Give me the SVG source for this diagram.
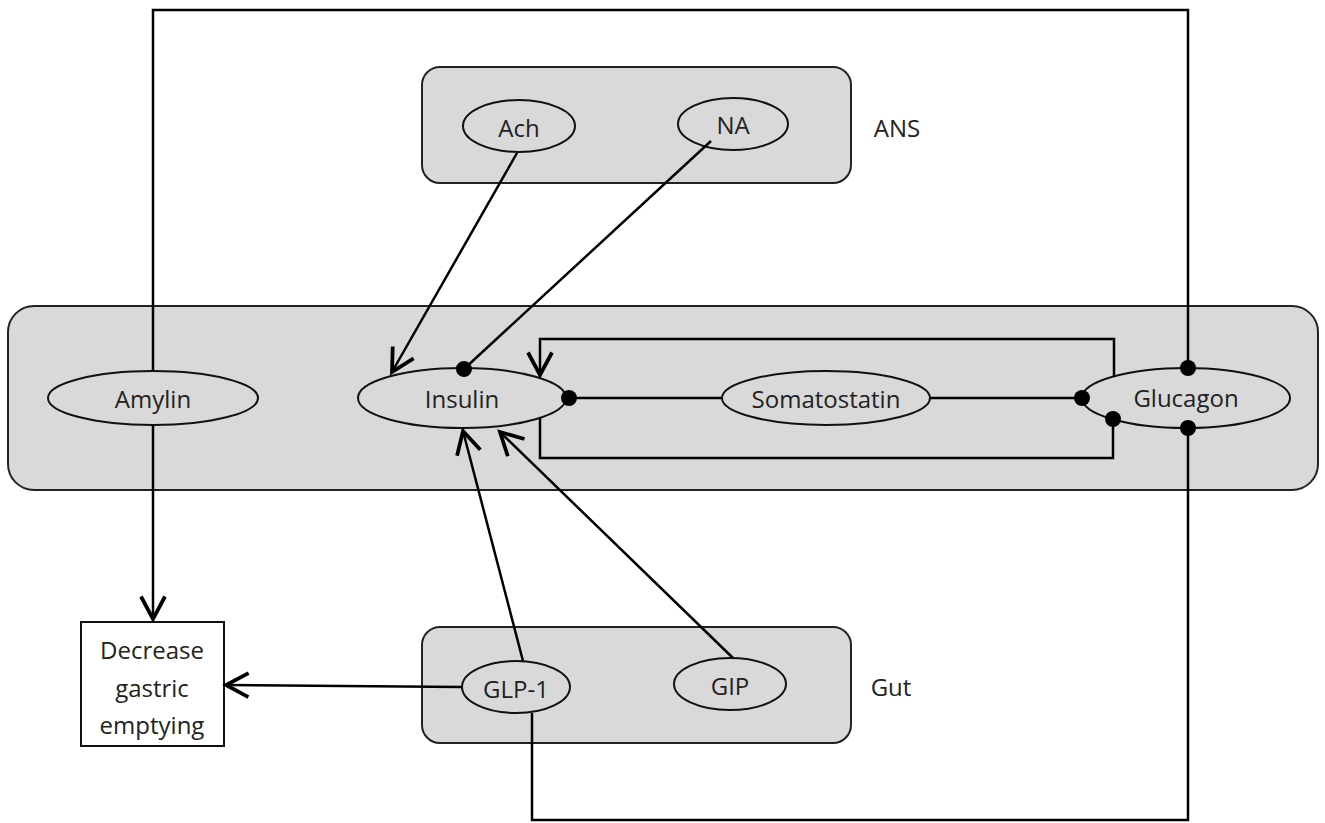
<svg xmlns="http://www.w3.org/2000/svg" width="1325" height="823" viewBox="0 0 1325 823">
<defs>
<marker id="arr" markerUnits="userSpaceOnUse" markerWidth="30" markerHeight="30" viewBox="-16 -10 20 20" refX="0" refY="0" orient="auto">
<path d="M-15,-8 L0,0 L-15,8" fill="none" stroke="#000" stroke-width="2.5"/>
</marker>
<marker id="dot" markerUnits="userSpaceOnUse" markerWidth="20" markerHeight="20" viewBox="-10 -10 20 20" refX="0" refY="0" orient="auto">
<circle cx="0" cy="0" r="8" fill="#000"/>
</marker>
<style>
.grp{fill:#d9d9d9;stroke:#222;stroke-width:2}
.el{fill:#d9d9d9;stroke:#111;stroke-width:2}
.t{font-family:"Open Sans","Liberation Sans",sans-serif;font-size:24px;fill:#222;text-anchor:middle;dominant-baseline:central}
.c{fill:none;stroke:#000;stroke-width:2.5}
</style>
</defs>
<rect width="1325" height="823" fill="#fff"/>
<g id="islet"><rect class="grp" x="8" y="306" width="1310" height="184" rx="26"/></g>
<g id="ans"><rect class="grp" x="422" y="67" width="429" height="116" rx="18"/><text class="t" x="897" y="127">ANS</text></g>
<g id="gut"><rect class="grp" x="422" y="627" width="429" height="116" rx="18"/><text class="t" x="891" y="686">Gut</text></g>
<g id="ach"><ellipse class="el" cx="519" cy="126" rx="56" ry="26"/><text class="t" x="519" y="127">Ach</text></g>
<g id="na"><ellipse class="el" cx="733" cy="124" rx="55" ry="26"/><text class="t" x="733" y="124">NA</text></g>
<g id="amylin"><ellipse class="el" cx="153" cy="398" rx="105" ry="27"/><text class="t" x="153" y="398">Amylin</text></g>
<g id="insulin"><ellipse class="el" cx="462" cy="398" rx="104" ry="30"/><text class="t" x="462" y="398">Insulin</text></g>
<g id="somatostatin"><ellipse class="el" cx="826" cy="398" rx="104" ry="27"/><text class="t" x="826" y="398">Somatostatin</text></g>
<g id="glucagon"><ellipse class="el" cx="1186" cy="398" rx="104" ry="30"/><text class="t" x="1186" y="397">Glucagon</text></g>
<g id="glp1"><ellipse class="el" cx="516" cy="687" rx="54" ry="26"/><text class="t" x="516" y="688">GLP-1</text></g>
<g id="gip"><ellipse class="el" cx="730" cy="684" rx="56" ry="26"/><text class="t" x="730" y="685">GIP</text></g>
<g id="gastric"><rect x="81" y="622" width="143" height="124" fill="#fff" stroke="#111" stroke-width="2"/>
<text class="t" x="152" y="649">Decrease</text><text class="t" x="152" y="687">gastric</text><text class="t" x="152" y="724">emptying</text></g>
<g id="connectors">
<path class="c" d="M153,371 V10 H1188 V368" marker-end="url(#dot)"/>
<path class="c" d="M153,425 V619" marker-end="url(#arr)"/>
<path class="c" d="M1114,377 V339 H540 V375" marker-end="url(#arr)"/>
<path class="c" d="M540,417 V458 H1113 V419" marker-end="url(#dot)"/>
<path class="c" d="M722,398 H569" marker-end="url(#dot)"/>
<path class="c" d="M930,398 H1082" marker-end="url(#dot)"/>
<path class="c" d="M517,153 L392,372" marker-end="url(#arr)"/>
<path class="c" d="M711,141 L464,369" marker-end="url(#dot)"/>
<path class="c" d="M523,661 L463,431" marker-end="url(#arr)"/>
<path class="c" d="M733,658 L500,432" marker-end="url(#arr)"/>
<path class="c" d="M462,687 L226,685" marker-end="url(#arr)"/>
<path class="c" d="M532,713 V820 H1188 V428" marker-end="url(#dot)"/>
</g>
</svg>
